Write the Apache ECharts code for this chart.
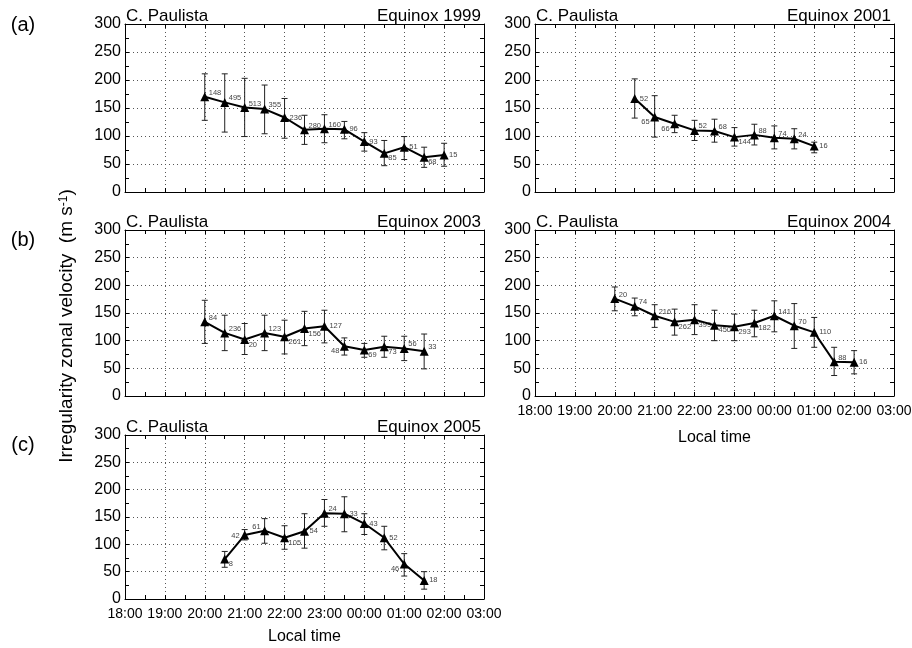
<!DOCTYPE html>
<html>
<head>
<meta charset="utf-8">
<script src="https://cdn.jsdelivr.net/npm/echarts@6/dist/echarts.min.js"></script>
<style>
html,body{margin:0;padding:0;background:#fff;}
#chart{width:912px;height:648px;}
</style>
</head>
<body>
<div id="chart"></div>
<script>
// ---------------- data ----------------
const xTickHours = [18, 19, 20, 21, 22, 23, 24, 25, 26, 27];

const times1999 = [20, 20.5, 21, 21.5, 22, 22.5, 23, 23.5, 24, 24.5, 25, 25.5, 26];
const vel1999   = [170, 160, 151, 148, 133, 111, 113, 112, 90, 69, 80, 62, 66];
const errHi1999 = [211, 211, 203, 191, 167, 137, 138, 126, 106, 92, 99, 80, 87];
const errLo1999 = [128, 107, 99, 104, 96, 85, 88, 95, 73, 47, 58, 44, 46];
const count1999 = [148, 495, 513, 355, 236, 280, 160, 96, 93, 85, 51, 68, 15];

const times2001 = [20.5, 21, 21.5, 22, 22.5, 23, 23.5, 24, 24.5, 25];
const vel2001   = [167, 134, 122, 110, 109, 98, 102, 97, 95, 82];
const errHi2001 = [202, 172, 137, 128, 130, 115, 121, 118, 113, 89];
const errLo2001 = [132, 98, 106, 92, 89, 82, 84, 77, 77, 70];
const count2001 = [52, 65, 66, 52, 68, 144, 88, 74, 24, 16];

const times2003 = [20, 20.5, 21, 21.5, 22, 22.5, 23, 23.5, 24, 24.5, 25, 25.5];
const vel2003   = [134, 114, 102, 114, 107, 122, 126, 90, 83, 89, 86, 81];
const errHi2003 = [173, 146, 131, 146, 137, 153, 155, 105, 95, 108, 108, 112];
const errLo2003 = [95, 82, 75, 82, 76, 91, 96, 74, 70, 70, 64, 49];
const count2003 = [84, 236, 20, 123, 261, 156, 127, 48, 69, 73, 56, 33];

const times2004 = [20, 20.5, 21, 21.5, 22, 22.5, 23, 23.5, 24, 24.5, 25, 25.5, 26];
const vel2004   = [176, 162, 145, 134, 138, 128, 125, 132, 145, 127, 115, 62, 61];
const errHi2004 = [197, 177, 165, 157, 165, 155, 148, 155, 172, 167, 142, 88, 82];
const errLo2004 = [154, 145, 124, 110, 111, 100, 100, 107, 116, 86, 88, 37, 40];
const count2004 = [20, 74, 216, 262, 399, 450, 293, 182, 141, 70, 110, 88, 16];

const times2005 = [20.5, 21, 21.5, 22, 22.5, 23, 23.5, 24, 24.5, 25, 25.5];
const vel2005   = [73, 117, 125, 112, 124, 157, 156, 138, 112, 64, 34];
const errHi2005 = [87, 127, 147, 134, 156, 182, 187, 156, 133, 83, 50];
const errLo2005 = [58, 108, 102, 91, 93, 133, 123, 118, 90, 42, 18];
const count2005 = [8, 42, 61, 105, 54, 24, 33, 43, 52, 46, 18];

// ---------------- label placement (style, not data) ----------------
const side1999 = ['ur','ur','ur','ur','r','ur','ur','r','r','lr','r','lr','r'];
const side2001 = ['r','ll','ll','ur','ur','lr','ur','ur','ur','r'];
const side2003 = ['ur','ur','lr','ur','lr','lr','r','ll','lr','lr','ur','ur'];
const side2004 = ['ur','ur','ur','lr','lr','lr','lr','lr','ur','ur','r','ur','r'];
const side2005 = ['lr','l','ul','lr','r','ur','r','r','r','ll','r'];

const SIDE_CODES = ['ur','r','lr','ul','l','ll'];
const SIDE_OFFS = {
  ur: [4, -4, 'left'], r: [5, 0, 'left'], lr: [4, 5, 'left'],
  ul: [-4, -4, 'right'], l: [-5, 1, 'right'], ll: [-5, 5, 'right']
};

const FONT = 'Liberation Sans, Arial, Helvetica, sans-serif';

const panels = [
  {year:'1999', t:times1999, v:vel1999, hi:errHi1999, lo:errLo1999, n:count1999, side:side1999, box:[125,24,359,168], xl:false},
  {year:'2001', t:times2001, v:vel2001, hi:errHi2001, lo:errLo2001, n:count2001, side:side2001, box:[535,24,359,168], xl:false},
  {year:'2003', t:times2003, v:vel2003, hi:errHi2003, lo:errLo2003, n:count2003, side:side2003, box:[125,230,359,166], xl:false},
  {year:'2004', t:times2004, v:vel2004, hi:errHi2004, lo:errLo2004, n:count2004, side:side2004, box:[535,230,359,166], xl:true},
  {year:'2005', t:times2005, v:vel2005, hi:errHi2005, lo:errLo2005, n:count2005, side:side2005, box:[125,435,359,164], xl:true}
];

function hourLabel(v) {
  const h = ((Math.round(v) % 24) + 24) % 24;
  return (h < 10 ? '0' : '') + h + ':00';
}

function renderErr(params, api) {
  const x = api.value(0), lo = api.value(1), hi = api.value(2), v = api.value(3);
  const cnt = api.value(4), sIdx = api.value(5);
  const pHi = api.coord([x, hi]), pLo = api.coord([x, lo]), pV = api.coord([x, v]);
  const cap = 3;
  const st = {stroke:'#222', lineWidth:1};
  const off = SIDE_OFFS[SIDE_CODES[sIdx]];
  return {
    type:'group',
    children:[
      {type:'line', shape:{x1:pHi[0], y1:pHi[1], x2:pLo[0], y2:pLo[1]}, style:st},
      {type:'line', shape:{x1:pHi[0]-cap, y1:pHi[1], x2:pHi[0]+cap, y2:pHi[1]}, style:st},
      {type:'line', shape:{x1:pLo[0]-cap, y1:pLo[1], x2:pLo[0]+cap, y2:pLo[1]}, style:st},
      {type:'text', x:pV[0]+off[0], y:pV[1]+off[1],
       style:{text:String(cnt), fill:'#444', fontSize:7.5, fontFamily:FONT, align:off[2], verticalAlign:'middle'}}
    ]
  };
}

const grids = [], xAxes = [], yAxes = [], series = [], graphics = [];
const axisLineStyle = {color:'#000', width:1};

panels.forEach((p, i) => {
  const [left, top, w, h] = p.box;
  grids.push({left:left, top:top, width:w, height:h, outerBoundsMode:'none', containLabel:false});
  xAxes.push({
    type:'value', gridIndex:i, position:'bottom', min:xTickHours[0], max:xTickHours[xTickHours.length-1], interval:1,
    axisLine:{show:true, onZero:false, lineStyle:axisLineStyle},
    axisTick:{show:true, inside:true, length:4, lineStyle:axisLineStyle},
    minorTick:{show:true, splitNumber:2, length:4, lineStyle:axisLineStyle},
    splitLine:{show:true, lineStyle:{color:'#555', type:[1,3], width:1}},
    axisLabel:{show:p.xl, formatter:hourLabel, fontSize:14, color:'#000', fontFamily:FONT, margin:8, showMinLabel:true, showMaxLabel:true}
  });
  xAxes.push({
    type:'value', gridIndex:i, position:'top', min:xTickHours[0], max:xTickHours[xTickHours.length-1], interval:1,
    axisLine:{show:true, onZero:false, lineStyle:axisLineStyle},
    axisTick:{show:true, inside:true, length:4, lineStyle:axisLineStyle},
    minorTick:{show:true, splitNumber:2, length:4, lineStyle:axisLineStyle},
    splitLine:{show:false}, axisLabel:{show:false}
  });
  yAxes.push({
    type:'value', gridIndex:i, position:'left', min:0, max:300, interval:50,
    axisLine:{show:true, onZero:false, lineStyle:axisLineStyle},
    axisTick:{show:true, inside:true, length:4, lineStyle:axisLineStyle},
    minorTick:{show:true, splitNumber:2, length:4, lineStyle:axisLineStyle},
    splitLine:{show:true, lineStyle:{color:'#555', type:[1,3], width:1}},
    axisLabel:{show:true, fontSize:16, color:'#000', fontFamily:FONT, margin:4}
  });
  yAxes.push({
    type:'value', gridIndex:i, position:'right', min:0, max:300, interval:50,
    axisLine:{show:true, onZero:false, lineStyle:axisLineStyle},
    axisTick:{show:true, inside:true, length:4, lineStyle:axisLineStyle},
    minorTick:{show:true, splitNumber:2, length:4, lineStyle:axisLineStyle},
    splitLine:{show:false}, axisLabel:{show:false}
  });

  const errData = p.t.map((t, k) => [t, p.lo[k], p.hi[k], p.v[k], p.n[k], SIDE_CODES.indexOf(p.side[k])]);
  series.push({
    type:'custom', xAxisIndex:2*i, yAxisIndex:2*i, renderItem:renderErr,
    encode:{x:0, y:[1,2]}, data:errData, z:2, silent:true
  });
  series.push({
    type:'line', xAxisIndex:2*i, yAxisIndex:2*i,
    data:p.t.map((t, k) => [t, p.v[k]]),
    symbol:'triangle', symbolSize:9, showAllSymbol:true,
    itemStyle:{color:'#000'}, lineStyle:{color:'#000', width:2}, z:3, silent:true
  });

  graphics.push({type:'text', x:left+1, y:top-7.5,
    style:{text:'C. Paulista', fontSize:17, fontFamily:FONT, fill:'#000', align:'left', verticalAlign:'middle'}});
  graphics.push({type:'text', x:left+w-3, y:top-7.5,
    style:{text:'Equinox ' + p.year, fontSize:17, fontFamily:FONT, fill:'#000', align:'right', verticalAlign:'middle'}});
  if (p.xl) {
    graphics.push({type:'text', x:left+w/2, y:top+h+(i===3?42:38),
      style:{text:'Local time', fontSize:16, fontFamily:FONT, fill:'#000', align:'center', verticalAlign:'middle'}});
  }
});

graphics.push({type:'text', x:23, y:25, style:{text:'(a)', fontSize:20, fontFamily:FONT, fill:'#000', align:'center', verticalAlign:'middle'}});
graphics.push({type:'text', x:23, y:240, style:{text:'(b)', fontSize:20, fontFamily:FONT, fill:'#000', align:'center', verticalAlign:'middle'}});
graphics.push({type:'text', x:23, y:445, style:{text:'(c)', fontSize:20, fontFamily:FONT, fill:'#000', align:'center', verticalAlign:'middle'}});
graphics.push({type:'text', x:67, y:326, rotation:Math.PI/2,
  style:{text:'{a|Irregularity zonal velocity  (m s}{b|-1}{a|)}', align:'center', verticalAlign:'middle',
    rich:{a:{fontSize:19, fontFamily:FONT, fill:'#000'}, b:{fontSize:12, fontFamily:FONT, fill:'#000', verticalAlign:'top'}}}});

const chart = echarts.init(document.getElementById('chart'), null, {renderer:'canvas'});
chart.setOption({
  animation:false,
  backgroundColor:'#fff',
  grid:grids, xAxis:xAxes, yAxis:yAxes, series:series, graphic:graphics
});
</script>
</body>
</html>
